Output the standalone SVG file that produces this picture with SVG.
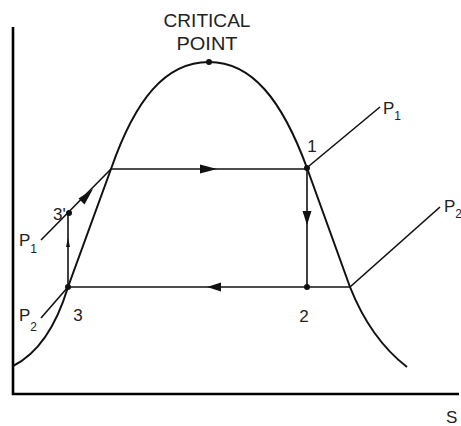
<svg xmlns="http://www.w3.org/2000/svg" width="461" height="426" viewBox="0 0 461 426">
<style>
.axis{fill:none;stroke:#000;stroke-width:2.6}
.dome{fill:none;stroke:#111;stroke-width:2}
.ln{fill:none;stroke:#111;stroke-width:1.6}
.ah{fill:#111;stroke:none}
.dot{fill:#111}
text{font-family:"Liberation Sans",Arial,sans-serif;fill:#222}
.lbl{font-size:17px}
.sub{font-size:12px}
</style>
<rect width="461" height="426" fill="#fff"/>
<!-- axes -->
<path class="axis" d="M13 27 V394 H459"/>
<text class="lbl" x="446" y="423">S</text>
<!-- saturation dome -->
<path class="dome" d="M13 366 C35 355 55 330 68 287 L111 169 C135 100 165 62 209 62 C252 62 282 100 307 168 L350 287 C365 325 385 350 407 367"/>
<g id="connectors">
  <!-- cycle -->
  <path class="ln" d="M111 169 H307"/>
  <polygon class="ah" points="217,169 200,164.5 200,173.5"/>
  <path class="ln" d="M307 168 V287"/>
  <polygon class="ah" points="307,225 302.5,211 311.5,211"/>
  <path class="ln" d="M350 287 H68"/>
  <polygon class="ah" points="207,287 221,282.5 221,291.5"/>
  <path class="ln" d="M68 287 V213"/>
  <polygon class="ah" points="68,238 66,247 70,247"/>
  <!-- pressure lines -->
  <path class="ln" d="M41 240 L111 169"/>
  <polygon class="ah" points="93,189 78.5,198.5 84.5,204.5"/>
  <path class="ln" d="M41 318 L68 287"/>
  <path class="ln" d="M309 166 L380 107"/>
  <path class="ln" d="M350 287 Q397 245 440 207"/>
</g>
<g id="critical-point">
  <circle class="dot" cx="209" cy="62" r="3"/>
  <text x="207" y="27" font-size="19" text-anchor="middle" textLength="87" lengthAdjust="spacingAndGlyphs">CRITICAL</text>
  <text x="207" y="50" font-size="19" text-anchor="middle" textLength="61" lengthAdjust="spacingAndGlyphs">POINT</text>
</g>
<g id="point-1">
  <circle class="dot" cx="307" cy="168" r="3"/>
  <text class="lbl" x="312" y="152" text-anchor="middle">1</text>
</g>
<g id="point-2">
  <circle class="dot" cx="307" cy="287" r="3"/>
  <text class="lbl" x="304" y="322" text-anchor="middle">2</text>
</g>
<g id="point-3">
  <circle class="dot" cx="68" cy="287" r="3"/>
  <text class="lbl" x="78" y="321" text-anchor="middle">3</text>
</g>
<g id="point-3prime">
  <circle class="dot" cx="69" cy="213" r="3"/>
  <text class="lbl" x="53" y="220">3'</text>
</g>
<g id="label-p1-left"><text class="lbl" x="19" y="246">P<tspan class="sub" dy="7">1</tspan></text></g>
<g id="label-p2-left"><text class="lbl" x="19" y="321">P<tspan class="sub" dy="10">2</tspan></text></g>
<g id="label-p1-right"><text class="lbl" x="383" y="114">P<tspan class="sub" dy="6">1</tspan></text></g>
<g id="label-p2-right"><text class="lbl" x="444" y="212">P<tspan class="sub" dy="6">2</tspan></text></g>
</svg>
